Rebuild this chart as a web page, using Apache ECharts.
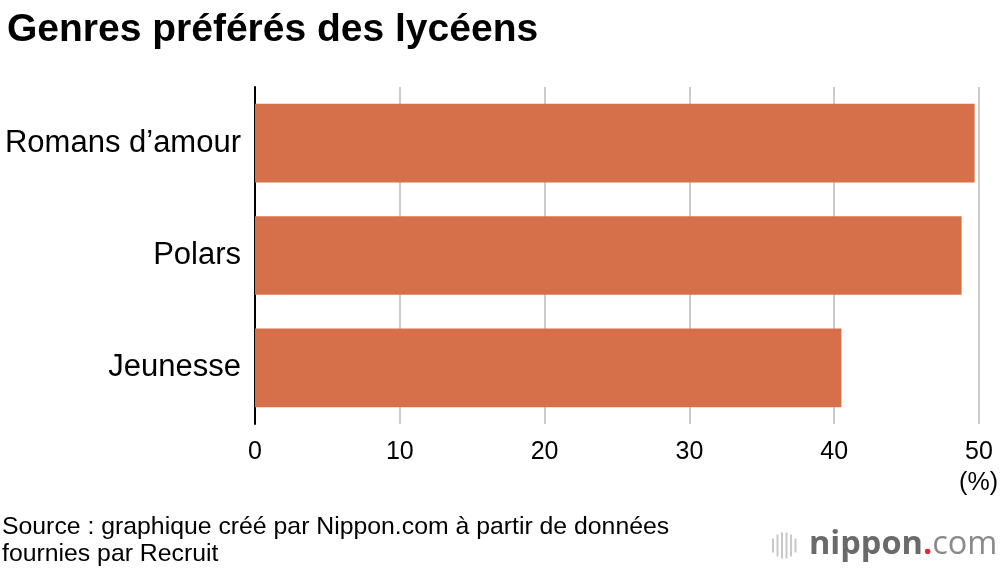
<!DOCTYPE html>
<html><head><meta charset="utf-8">
<script src="https://cdn.jsdelivr.net/npm/echarts@6/dist/echarts.min.js"></script>
<style>html,body{margin:0;padding:0;background:#fff}#c{width:1000px;height:568px}</style>
</head><body><div id="c"></div>
<script>
const categories = ['Romans d\u2019amour', 'Polars', 'Jeunesse'];
const values = [49.7, 48.8, 40.5];
const xTicks = [0, 10, 20, 30, 40, 50];

const chart = echarts.init(document.getElementById('c'));
const F = '"Liberation Sans", Arial, sans-serif';
const iconBars = [];
const iconX = [772, 776.5, 781, 785.5, 790, 794.5];
const iconH = [14, 22, 26, 26, 22, 14];
iconX.forEach((x, i) => {
  const h = iconH[i];
  iconBars.push({type:'rect', left: x, top: 545.5 - h/2, shape:{width:2, height:h}, style:{fill:'#c8c8c8'}});
});
chart.setOption({
  animation:false,
  textStyle:{fontFamily:F},
  title:{text:'Genres préférés des lycéens', left:2, top:6,
    textStyle:{fontFamily:F, fontSize:39, fontWeight:'bold', color:'#000'}},
  grid:{left:255, right:21, top:87, bottom:144, containLabel:false},
  xAxis:{type:'value', min:0, max:50, interval:10,
    axisLine:{show:false}, axisTick:{show:false},
    splitLine:{lineStyle:{color:'#cccccc', width:2}},
    axisLabel:{fontSize:25, color:'#000', margin:16, fontFamily:F,
      formatter: v => xTicks.includes(v) ? String(v) : ''}},
  yAxis:{type:'category', data:categories, inverse:true,
    axisLine:{lineStyle:{color:'#000', width:2}}, axisTick:{show:false},
    axisLabel:{fontSize:31, color:'#000', margin:14, fontFamily:F, padding:[8,0,0,0]}},
  series:[{type:'bar', data:values, barWidth:'70%',
    itemStyle:{color:'#d6704b'}, silent:true}],
  graphic:[
    {type:'text', right:2, top:471, style:{text:'(%)', fontSize:25, fill:'#000', fontFamily:F}},
    {type:'text', left:2, top:514, style:{text:'Source : graphique créé par Nippon.com à partir de données\nfournies par Recruit', fontSize:24.8, lineHeight:27, fill:'#000', fontFamily:F}},
    {type:'text', left:809, top:528, style:{
      text:'{a|nippon}{b|.}{c|com}', fill:'#707070',
      rich:{a:{fontSize:32.5, fontFamily:'"Open Sans", sans-serif', fontWeight:'bold', fill:'#6a6a6a'},
            b:{fontSize:32.5, fontFamily:'"Open Sans", sans-serif', fill:'#e8262d', fontWeight:'bold'},
            c:{fontSize:32.5, fontFamily:'"Open Sans", sans-serif', fill:'#8a8a8a'}}}},
    ...iconBars
  ]
});
</script></body></html>
